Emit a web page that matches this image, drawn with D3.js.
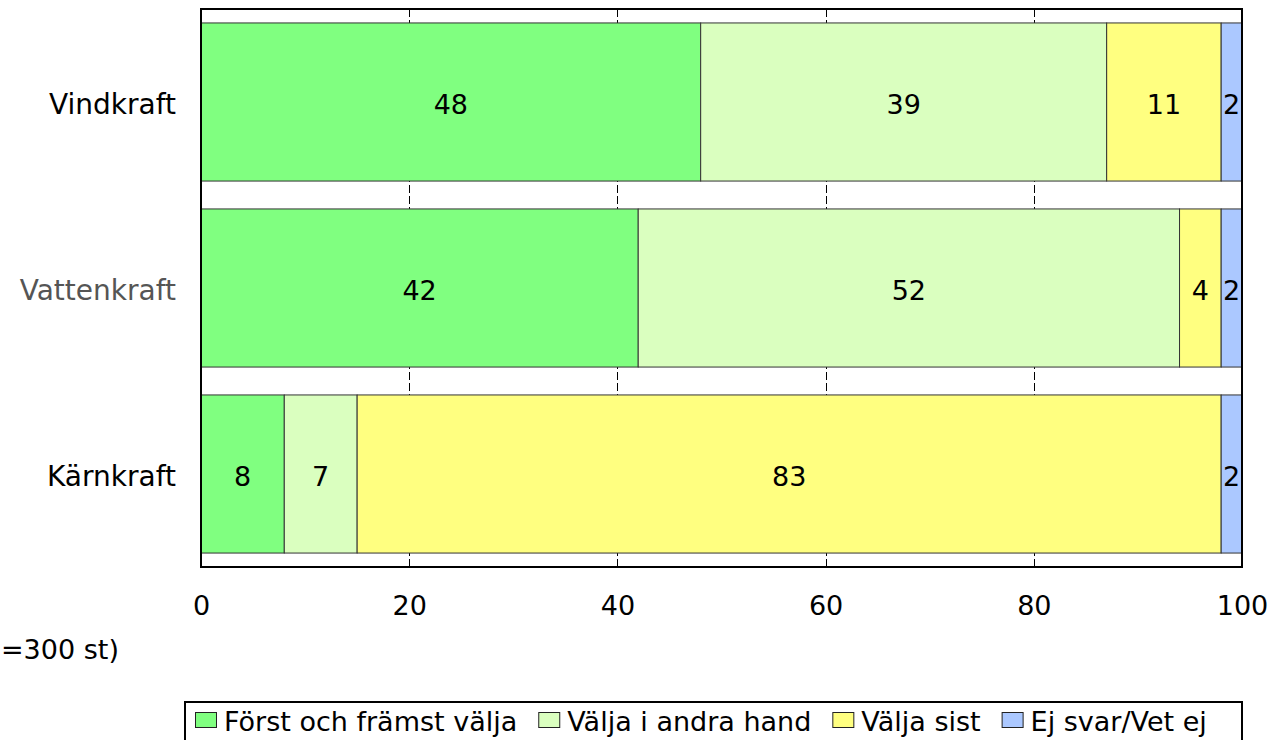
<!DOCTYPE html>
<html>
<head>
<meta charset="utf-8">
<script src="https://cdn.jsdelivr.net/npm/d3@7"></script>
<style>
  body { margin: 0; background: #fff; }
  svg text { font-family: "DejaVu Sans", Verdana, sans-serif; }
</style>
</head>
<body>
<div id="chart"></div>
<script>
  'use strict';

  var categories = ["Vindkraft", "Vattenkraft", "Kärnkraft"];
  var seriesNames = ["Först och främst välja", "Välja i andra hand", "Välja sist", "Ej svar/Vet ej"];
  var forst = [48, 42, 8];
  var andra = [39, 52, 7];
  var sist = [11, 4, 83];
  var ejSvar = [2, 2, 2];
  var xTicks = [0, 20, 40, 60, 80, 100];
  var baseNote = "=300 st)";

  var colors = ["#80ff80", "#daffbf", "#ffff80", "#abc8ff"];
  var series = [forst, andra, sist, ejSvar];

  var width = 1273, height = 740;
  var margin = {top: 9, right: 31, bottom: 173, left: 201};
  var plotW = width - margin.left - margin.right;
  var plotH = height - margin.top - margin.bottom;
  var fontSize = "27px";

  var svg = d3.select("#chart")
    .append("svg")
    .attr("width", width)
    .attr("height", height);

  var g = svg.append("g")
    .attr("transform", "translate(" + margin.left + "," + margin.top + ")");

  var x = d3.scaleLinear().domain([0, 100]).range([0, plotW]);
  var y = d3.scaleBand()
    .domain(categories)
    .range([0, plotH])
    .paddingInner(0.15)
    .paddingOuter(0.075);

  // dashed grid, only shows in the gaps between bars
  g.append("g")
    .selectAll("line")
    .data(xTicks.slice(1, -1))
    .enter().append("line")
    .attr("x1", function (d) { return Math.round(x(d)) + 0.5; })
    .attr("x2", function (d) { return Math.round(x(d)) + 0.5; })
    .attr("y1", 0)
    .attr("y2", plotH)
    .attr("stroke", "#000")
    .attr("stroke-width", 1)
    .attr("stroke-dasharray", "8,3");

  // stack
  var stacked = categories.map(function (c, i) {
    var pos = 0;
    return series.map(function (s, k) {
      var seg = {cat: c, k: k, start: pos, value: s[i]};
      pos += s[i];
      return seg;
    });
  });

  var rows = g.selectAll("g.row")
    .data(stacked)
    .enter().append("g")
    .attr("class", "row");

  rows.selectAll("rect")
    .data(function (d) { return d; })
    .enter().append("rect")
    .attr("x", function (d) { return x(d.start); })
    .attr("y", function (d) { return y(d.cat); })
    .attr("width", function (d) { return x(d.start + d.value) - x(d.start); })
    .attr("height", y.bandwidth())
    .attr("fill", function (d) { return colors[d.k]; })
    .attr("stroke", "#333")
    .attr("stroke-width", 1);

  rows.selectAll("text")
    .data(function (d) { return d; })
    .enter().append("text")
    .attr("x", function (d) { return x(d.start + d.value / 2); })
    .attr("y", function (d) { return y(d.cat) + y.bandwidth() / 2 + 2; })
    .attr("dy", "0.36em")
    .attr("text-anchor", "middle")
    .attr("font-size", fontSize)
    .attr("fill", "#000")
    .text(function (d) { return d.value; });

  // frame
  g.append("rect")
    .attr("x", 0)
    .attr("y", 0)
    .attr("width", plotW)
    .attr("height", plotH)
    .attr("fill", "none")
    .attr("stroke", "#000")
    .attr("stroke-width", 2);

  // x axis
  var xAxis = d3.axisBottom(x)
    .tickValues(xTicks)
    .tickSize(0)
    .tickPadding(29);

  var ax = g.append("g")
    .attr("transform", "translate(0," + plotH + ")")
    .call(xAxis);
  ax.select(".domain").remove();
  ax.selectAll("text")
    .attr("font-size", fontSize)
    .attr("fill", "#000");

  // y labels
  g.append("g")
    .selectAll("text")
    .data(categories)
    .enter().append("text")
    .attr("x", -25)
    .attr("y", function (d) { return y(d) + y.bandwidth() / 2 + 2; })
    .attr("dy", "0.36em")
    .attr("text-anchor", "end")
    .attr("font-size", "28px")
    .attr("fill", function (d, i) { return i === 1 ? "#555" : "#000"; })
    .text(function (d) { return d; });

  // base note (left part is outside the picture in the original)
  svg.append("text")
    .attr("x", 1)
    .attr("y", 659)
    .attr("font-size", fontSize)
    .attr("fill", "#000")
    .text(baseNote);

  // legend
  var legend = svg.append("g")
    .attr("transform", "translate(185,702)");

  legend.append("rect")
    .attr("x", 0)
    .attr("y", 0)
    .attr("width", 1057)
    .attr("height", 50)
    .attr("fill", "#fff")
    .attr("stroke", "#000")
    .attr("stroke-width", 2);

  var lx = 10;
  seriesNames.forEach(function (name, i) {
    var item = legend.append("g").attr("transform", "translate(" + lx + ",0)");
    item.append("rect")
      .attr("x", 0.5)
      .attr("y", 10.5)
      .attr("width", 21)
      .attr("height", 15)
      .attr("fill", colors[i])
      .attr("stroke", "#222");
    var t = item.append("text")
      .attr("x", 29)
      .attr("y", 29)
      .attr("font-size", fontSize)
      .attr("fill", "#000")
      .text(name);
    lx += 29 + t.node().getComputedTextLength() + 21;
  });
</script>
</body>
</html>
